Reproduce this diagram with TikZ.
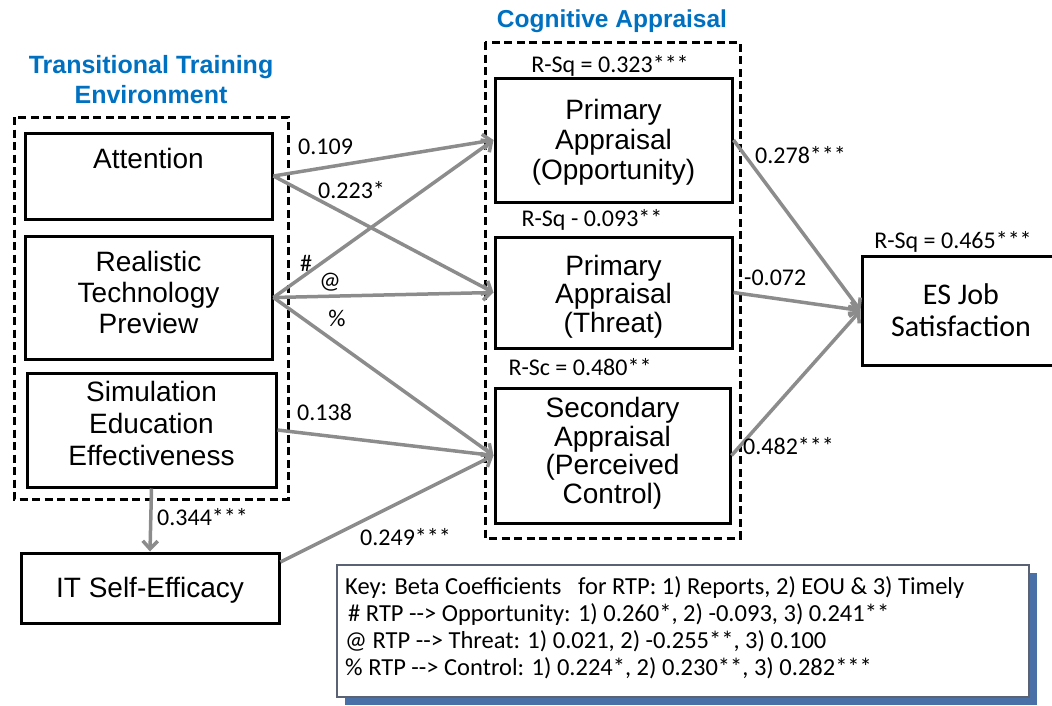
\documentclass[tikz,border=0pt]{standalone}
\usepackage{fontspec}
\setmainfont{Liberation Sans}
\newfontfamily\calfont{Carlito}
\usetikzlibrary{arrows.meta}
\definecolor{titleblue}{RGB}{0,112,192}
\definecolor{linkgray}{RGB}{140,140,140}
\definecolor{keyblue}{RGB}{74,112,168}
\definecolor{keyedge}{RGB}{90,98,115}

\begin{document}
\begin{tikzpicture}[x=1pt,y=-1pt,
  frame/.style={draw=black,line width=3pt,inner sep=0pt},
  boxtext/.style={align=center,inner sep=0pt,font=\fontsize{28}{30}\selectfont},
  group/.style={draw=black,line width=3pt,dash pattern=on 8pt off 4.5pt},
  link/.style={draw=linkgray,line width=3.5pt,
    -{Straight Barb[length=8pt,width=15pt]}},
  coef/.style={font=\calfont\fontsize{24}{26}\selectfont,inner sep=0pt},
  title/.style={font=\bfseries\fontsize{25}{30}\selectfont,text=titleblue,
    align=center,inner sep=0pt},
  keyline/.style={font=\calfont\fontsize{24.5}{27}\selectfont,inner sep=0pt,
    anchor=base west}]

\useasboundingbox (0,0) rectangle (1052,705);
\clip (0,0) rectangle (1052,705);

% group titles
\node[title] (ttitle) at (151,80) {Transitional Training\\Environment};
\node[title,font=\bfseries\fontsize{24.5}{30}\selectfont] (ctitle) at (612,21) {Cognitive Appraisal};

% dashed group frames
\draw[group] (14,117) rectangle (288,499);
\draw[group] (485,42) rectangle (740,538);

% antecedent boxes
\node[frame,minimum width=247pt,minimum height=86pt] (att) at (148.5,176) {};
\node[frame,minimum width=247pt,minimum height=123pt] (rtp) at (148.5,297.5) {};
\node[frame,minimum width=249pt,minimum height=114pt] (see) at (151.5,430) {};
\node[frame,minimum width=258pt,minimum height=70pt] (itse) at (150,588) {};

% appraisal boxes
\node[frame,minimum width=237pt,minimum height=124pt] (opp) at (613.5,140) {};
\node[frame,minimum width=237pt,minimum height=111pt] (thr) at (613.5,292.5) {};
\node[frame,minimum width=235pt,minimum height=135pt] (sec) at (612.5,455.5) {};

% outcome box
\node[frame,minimum width=198pt,minimum height=109pt] (es) at (961,310.5) {};

% box texts
\node[boxtext] (atttext) at (148.5,158) {Attention};
\node[boxtext,font=\fontsize{28}{31}\selectfont,yshift=5pt] (rtptext) at (rtp.center) {Realistic\\Technology\\Preview};
\node[boxtext,font=\fontsize{28}{32}\selectfont,yshift=7pt] (seetext) at (see.center) {Simulation\\Education\\Effectiveness};
\node[boxtext,yshift=-2pt] (itsetext) at (itse.center) {IT Self-Efficacy};
\node[boxtext,yshift=-2pt] (opptext) at (opp.center) {Primary\\Appraisal\\(Opportunity)};
\node[boxtext,font=\fontsize{28}{28.5}\selectfont,yshift=-4pt] (thrtext) at (thr.center) {Primary\\Appraisal\\(Threat)};
\node[boxtext,font=\fontsize{28}{28.5}\selectfont,yshift=2.5pt] (sectext) at (sec.center) {Secondary\\Appraisal\\(Perceived\\Control)};
\node[boxtext,font=\calfont\fontsize{30}{32}\selectfont] (estext) at (es.center) {ES Job\\Satisfaction};

% R-squared values
\node[coef] (rsqopp) at (610,66) {R-Sq = 0.323***};
\node[coef] (rsqthr) at (592,220) {R-Sq - 0.093**};
\node[coef] (rsqsec) at (580,367) {R-Sc = 0.480**};
\node[coef] (rsqes) at (953,242) {R-Sq = 0.465***};

% paths
\draw[link] (att.east) -- (opp.west);
\draw[link] (att.east) -- (thr.west);
\draw[link] (rtp.east) -- (opp.west);
\draw[link] (rtp.east) -- (thr.west);
\draw[link] (rtp.east) -- (sec.west);
\draw[link] (see.east) -- (sec.west);
\draw[link] ([yshift=26pt]itse.east) -- (sec.west);
\draw[link] (see.south) -- (itse.north);
\draw[link] (opp.east) -- (es.west);
\draw[link] (thr.east) -- (es.west);
\draw[link] (sec.east) -- (es.west);

% path coefficients
\node[coef,anchor=west] (c1) at (298,147) {0.109};
\node[coef,anchor=west] (c2) at (318,190) {0.223*};
\node[coef] (c3) at (306,263) {\#};
\node[coef] (c4) at (330,282) {@};
\node[coef] (c5) at (337,318) {\%};
\node[coef,anchor=west] (c6) at (297,412) {0.138};
\node[coef,anchor=west] (c7) at (157,517) {0.344***};
\node[coef,anchor=west] (c8) at (360,537) {0.249***};
\node[coef,anchor=west] (c9) at (755,155) {0.278***};
\node[coef,anchor=west] (c10) at (744,278) {-0.072};
\node[coef,anchor=west] (c11) at (743,446) {0.482***};

% key
\fill[keyblue] (345,573) rectangle (1037,705);
\node[draw=keyedge,fill=white,line width=1.2pt,minimum width=692pt,minimum height=132pt,inner sep=0pt] (key) at (683,631) {};
\node[keyline] (k1) at (345,594) {Key: Beta Coefficients\ \ \ for RTP: 1) Reports, 2) EOU \& 3) Timely};
\node[keyline] (k2) at (348,621) {\# RTP --> Opportunity: 1) 0.260*, 2) -0.093, 3) 0.241**};
\node[keyline] (k3) at (345,648) {@ RTP --> Threat: 1) 0.021, 2) -0.255**, 3) 0.100};
\node[keyline] (k4) at (345,675) {\% RTP --> Control: 1) 0.224*, 2) 0.230**, 3) 0.282***};

\end{tikzpicture}
\end{document}
